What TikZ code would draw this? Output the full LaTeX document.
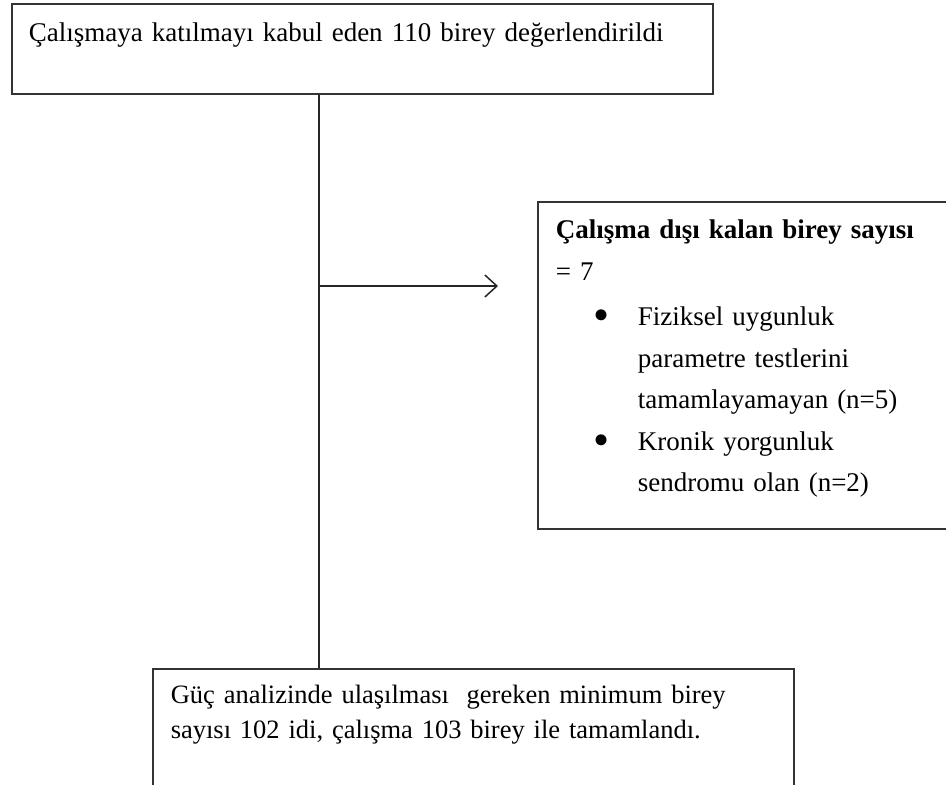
\documentclass[tikz,border=0pt]{standalone}
\usepackage{fontspec}
\setmainfont{Liberation Serif}
\usetikzlibrary{arrows.meta,positioning,calc}
\tikzset{
  flowbox/.style={draw=black!80, line width=1.6pt, rectangle, anchor=north west, inner ysep=0pt, inner xsep=18pt, font=\fontsize{27}{41.5}\selectfont},
  trunk/.style={line width=1.5pt, black!85},
  exitarrow/.style={-{Straight Barb[length=12pt,width=22pt,line width=1.5pt]}, line width=1.5pt, black!85},
}
\newcommand{\bul}{\hspace*{38pt}\makebox[44pt][l]{\raisebox{-0.18em}{\scalebox{1.7}{\textbullet}}}}

\begin{document}
\begin{tikzpicture}[x=1pt,y=-1pt]
\useasboundingbox (0,0) rectangle (946,785);
% --- boxes ---
\node[flowbox, inner xsep=17pt, text width=667pt, text height=38pt, text depth=52pt] (enrolled) at (11,3)
  {Çalışmaya katılmayı kabul eden 110 birey değerlendirildi};
\node[flowbox, text width=387pt, text height=37pt, text depth=290pt] (excluded) at (537,201)
  {\textbf{Çalışma dışı kalan birey sayısı}\\
   = 7\par\vspace{4pt}
   {\hangindent=82pt\hangafter=1\bul Fiziksel uygunluk\newline
    parametre testlerini\newline
    tamamlayamayan (n=5)\par}
   {\hangindent=82pt\hangafter=1\bul Kronik yorgunluk\newline
    sendromu olan (n=2)\par}};
\node[flowbox, font=\fontsize{26.5}{35}\selectfont, text width=605pt, text height=35pt, text depth=100pt] (analysed) at (152,668)
  {Güç analizinde ulaşılması\ \ gereken minimum birey\\
   sayısı 102 idi, çalışma 103 birey ile tamamlandı.};
% --- connectors ---
\coordinate (split) at (319,286);
\coordinate (tip) at (498,286);
\draw[trunk] (split |- enrolled.south) -- (split |- analysed.north);
\draw[exitarrow] (split) -- (tip);
\end{tikzpicture}
\end{document}
